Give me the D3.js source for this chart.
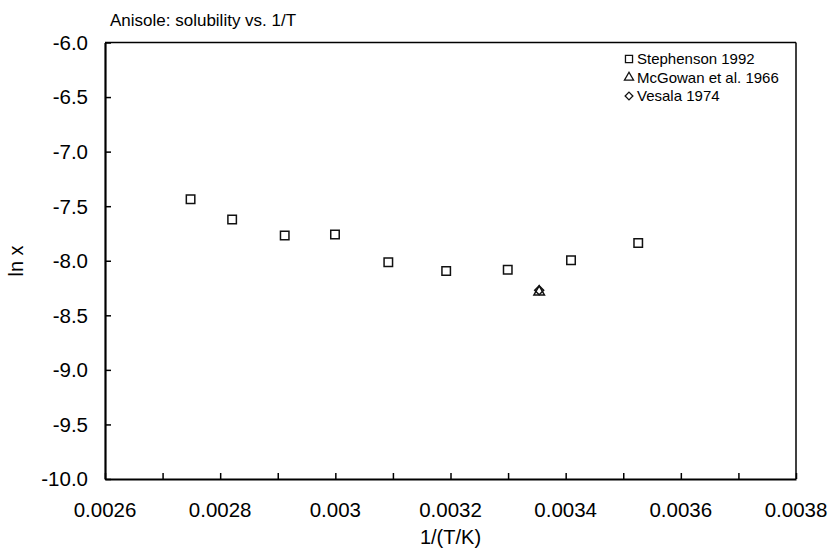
<!DOCTYPE html>
<html><head><meta charset="utf-8">
<script src="https://cdn.jsdelivr.net/npm/d3@7"></script>
<style>body{margin:0;background:#fff}svg{display:block}text{font-family:"Liberation Sans",Arial,sans-serif;fill:#000}</style>
</head><body><svg id="c" width="831" height="555"></svg>
<script>
const stephensonX = [0.0027486, 0.0028208, 0.0029121, 0.0029994, 0.003092, 0.0031925, 0.0032994, 0.0034093, 0.003526];
const stephensonY = [-7.437, -7.623, -7.769, -7.760, -8.014, -8.093, -8.082, -7.995, -7.837];
const mcgowanX = [0.003354];
const mcgowanY = [-8.285];
const vesalaX = [0.003354];
const vesalaY = [-8.270];
const xTicks = [0.0026, 0.0028, 0.003, 0.0032, 0.0034, 0.0036, 0.0038];
const xTickLabels = ["0.0026","0.0028","0.003","0.0032","0.0034","0.0036","0.0038"];
const xMinorTicks = [0.0026,0.0027,0.0028,0.0029,0.003,0.0031,0.0032,0.0033,0.0034,0.0035,0.0036,0.0037,0.0038];
const yTicks = [-10,-9.5,-9,-8.5,-8,-7.5,-7,-6.5,-6];
const legendLabels = ["Stephenson 1992","McGowan et al. 1966","Vesala 1974"];

const svg = d3.select("#c");
const L=105, R=796, T=42.5, B=479;
const x = d3.scaleLinear().domain([0.0026,0.0038]).range([L,R]);
const y = d3.scaleLinear().domain([-10,-6]).range([B,T]);

// square-diamond symbol
const symDiamondSq = { draw(ctx, size){ const r=Math.sqrt(size/2); ctx.moveTo(0,-r); ctx.lineTo(r,0); ctx.lineTo(0,r); ctx.lineTo(-r,0); ctx.closePath(); } };

// frame
svg.append("line").attr("x1",L).attr("x2",R).attr("y1",T).attr("y2",T).attr("stroke","#000").attr("stroke-width",1.5);
svg.append("line").attr("x1",R).attr("x2",R).attr("y1",T).attr("y2",B).attr("stroke","#000").attr("stroke-width",1.5);

// x axis
const xAx = svg.append("g").attr("transform",`translate(0,${B})`)
  .call(d3.axisBottom(x).tickValues(xMinorTicks).tickSizeInner(-6).tickSizeOuter(0).tickFormat(""));
xAx.select(".domain").attr("stroke-width",2.2);
xAx.selectAll(".tick line").attr("stroke-width",1.5);
svg.append("g").selectAll("text").data(xTicks).join("text")
  .attr("x",d=>x(d)).attr("y",517).attr("text-anchor","middle").attr("font-size",20.5)
  .text((d,i)=>xTickLabels[i]);

// y axis
const yAx = svg.append("g").attr("transform",`translate(${L},0)`)
  .call(d3.axisLeft(y).tickValues(yTicks).tickSizeInner(-6).tickSizeOuter(0).tickFormat(""));
yAx.select(".domain").attr("stroke-width",2.2);
yAx.selectAll(".tick line").attr("stroke-width",1.5);
svg.append("g").selectAll("text").data(yTicks).join("text")
  .attr("x",88).attr("y",d=>y(d)).attr("dy","0.36em").attr("text-anchor","end").attr("font-size",20.5)
  .text(d=>d3.format(".1f")(d).replace("−","-"));

// labels
svg.append("text").attr("x",110).attr("y",26).attr("font-size",17).text("Anisole: solubility vs. 1/T");
svg.append("text").attr("x",(L+R)/2).attr("y",544).attr("text-anchor","middle").attr("font-size",20).text("1/(T/K)");
svg.append("text").attr("transform","translate(23,261) rotate(-90)").attr("text-anchor","middle").attr("font-size",20).text("ln x");

// markers
const sq = d3.symbol().type(d3.symbolSquare).size(72);
const tri = d3.symbol().type(d3.symbolTriangle).size(48);
const dia = d3.symbol().type(symDiamondSq).size(40);
svg.append("g").selectAll("path").data(mcgowanX).join("path")
  .attr("transform",(d,i)=>`translate(${x(d)},${y(mcgowanY[i])})`)
  .attr("d",tri).attr("fill","none").attr("stroke","#111").attr("stroke-width",1.5);
svg.append("g").selectAll("path").data(vesalaX).join("path")
  .attr("transform",(d,i)=>`translate(${x(d)},${y(vesalaY[i])})`)
  .attr("d",dia).attr("fill","none").attr("stroke","#111").attr("stroke-width",1.5);
svg.append("g").selectAll("path").data(stephensonX).join("path")
  .attr("transform",(d,i)=>`translate(${x(d)},${y(stephensonY[i])})`)
  .attr("d",sq).attr("fill","none").attr("stroke","#111").attr("stroke-width",1.5);

// legend
const lg = svg.append("g");
const sy = [59,77.5,96];
const syms = [d3.symbol().type(d3.symbolSquare).size(50), d3.symbol().type(d3.symbolTriangle).size(36), d3.symbol().type(symDiamondSq).size(30)];
legendLabels.forEach((t,i)=>{
  lg.append("path").attr("transform",`translate(629,${sy[i]})`).attr("d",syms[i]).attr("fill","none").attr("stroke","#111").attr("stroke-width",1.3);
  lg.append("text").attr("x",637).attr("y",sy[i]).attr("dy","0.36em").attr("font-size",15).text(t);
});
</script></body></html>
